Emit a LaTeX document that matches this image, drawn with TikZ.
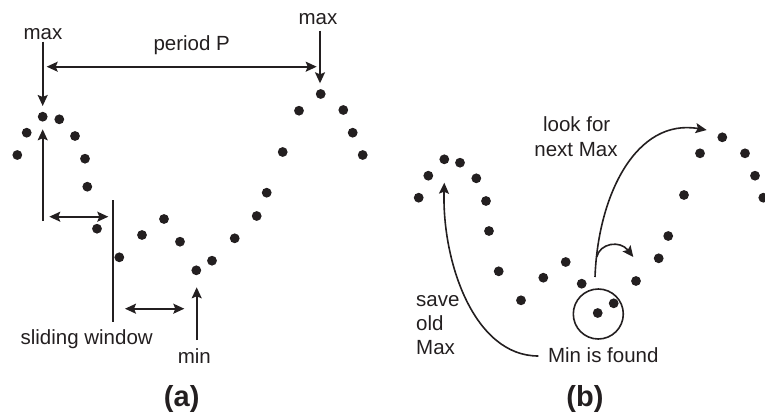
\documentclass[tikz,border=0pt]{standalone}
\usepackage{fontspec}
\setmainfont{Liberation Sans}
\usetikzlibrary{arrows.meta}
\definecolor{ink}{HTML}{231F20}
\begin{document}
\begin{tikzpicture}[x=1pt,y=-1pt,
  lbl/.style={font=\fontsize{20.5}{24}\selectfont, inner sep=0pt, text=ink},
  captext/.style={font=\bfseries\fontsize{29}{34}\selectfont, inner sep=0pt, text=ink},
  ln/.style={line width=1.6pt, draw=ink},
  tip/.tip={Stealth[length=11pt,width=10pt,inset=2pt]},
  arr/.style={ln,-tip},
  darr/.style={ln,tip-tip}]
\useasboundingbox (0,0) rectangle (765,418);

% dots panel (a)
\foreach \x/\y in {42.7/116.7, 59.3/119.3, 26.7/132.7, 75/136, 17.3/155, 85/158.7, 87.3/186.7,
  97/228.7, 119.3/257.3, 142/235, 164/219, 180/241.7, 196.3/270.3, 212/260.7, 234.7/238.3,
  256.7/216, 266.7/192.7, 282.7/152, 299/110.7, 320.7/94, 343.3/110, 352.7/132.7, 362.7/155}
  \fill[ink] (\x,\y) circle (4.9);

% dots panel (b)
\foreach \x/\y in {444.3/159.3, 460/162.7, 428.3/175.7, 476.3/178.3, 418.7/197.7, 486/201, 489/231,
  498.7/271.3, 521/300.3, 543.3/277.7, 565.7/262, 581.7/283.7, 597.7/313, 613.7/303.3, 636/281,
  658.7/258.3, 668.2/236, 684/195, 700/153.3, 722.3/137.3, 745/153.3, 755/175.7, 763.3/197.7}
  \fill[ink] (\x,\y) circle (4.9);

% labels panel (a)
\node[lbl,anchor=base] (maxL) at (43,39) {max};
\node[lbl,anchor=base] (maxR) at (318,24) {max};
\node[lbl,anchor=base] (period) at (191.7,50) {period P};
\node[lbl,anchor=base] (sliding) at (86.7,344) {sliding window};
\node[lbl,anchor=base] (minA) at (194.3,363.3) {min};
\node[captext,anchor=base] (capA) at (181.7,406) {(a)};

% coordinates panel (a)
\coordinate (maxLs) at (42.7,41.7);
\coordinate (peakL) at (42.7,106);
\coordinate (maxRs) at (320,30.7);
\coordinate (peakR) at (320,83.3);
\coordinate (perL) at (46.7,66.7);
\coordinate (perR) at (316.7,66.7);
\coordinate (upB) at (42.7,221);
\coordinate (upT) at (42.7,129.3);
\coordinate (w1L) at (49.3,216.7);
\coordinate (w1R) at (108.3,216.7);
\coordinate (barT) at (113,200);
\coordinate (barB) at (113,321.7);
\coordinate (w2L) at (125,308.7);
\coordinate (w2R) at (184.3,308.7);
\coordinate (minS) at (196.7,340);
\coordinate (minT) at (196.7,287.3);

\draw[arr] (maxLs) -- (peakL);
\draw[arr] (maxRs) -- (peakR);
\draw[darr] (perL) -- (perR);
\draw[arr] (upB) -- (upT);
\draw[darr] (w1L) -- (w1R);
\draw[ln] (barT) -- (barB);
\draw[darr] (w2L) -- (w2R);
\draw[arr] (minS) -- (minT);

% labels panel (b)
\node[lbl,anchor=base] (look1) at (576.7,131.7) {look for};
\node[lbl,anchor=base] (look2) at (576,156) {next Max};
\node[lbl,anchor=base west] (save1) at (416,306.7) {save};
\node[lbl,anchor=base west] (save2) at (416,330.7) {old};
\node[lbl,anchor=base west] (save3) at (416,354.3) {Max};
\node[lbl,anchor=base] (found) at (603.3,362.7) {Min is found};
\node[captext,anchor=base] (capB) at (585,406.7) {(b)};

% ring round min
\node[draw=ink, line width=1.6pt, circle, minimum size=50pt, inner sep=0pt] (ring) at (598.3,314) {};

% coordinates panel (b)
\coordinate (bigS) at (595,277);
\coordinate (bigE) at (706.7,130);
\coordinate (smS) at (596.7,257);
\coordinate (smE) at (633.3,257);
\coordinate (saveS) at (538.3,356);
\coordinate (saveE) at (444.3,182.7);

\draw[arr] (bigS) .. controls (598,195) and (636,118) .. (bigE);
\draw[arr] (smS) .. controls (600,243) and (620,240) .. (smE);
\draw[arr] (saveS) .. controls (474,356) and (442,262) .. (saveE);
\end{tikzpicture}
\end{document}
